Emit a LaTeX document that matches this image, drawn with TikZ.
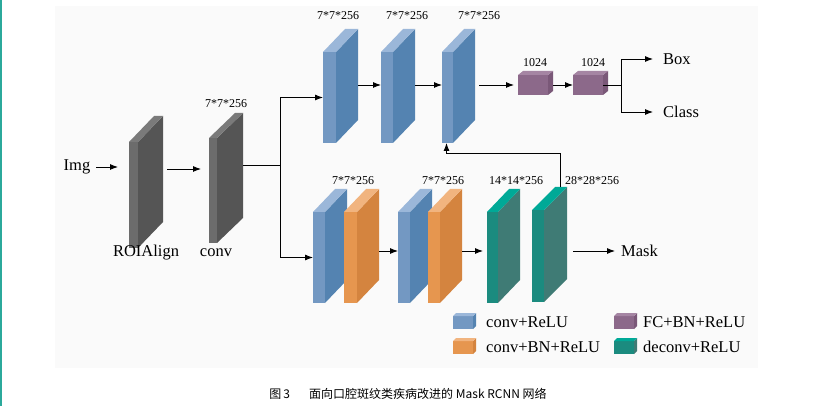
\documentclass[tikz,border=0pt]{standalone}
\usepackage{fontspec}
\setmainfont{Liberation Serif}
\newfontfamily\cjk{Noto Sans CJK SC}
\usepackage{xcolor}
\usetikzlibrary{arrows.meta, calc}

\definecolor{greyfront}{HTML}{6C6C6C}
\definecolor{greyside}{HTML}{555555}
\definecolor{greytop}{HTML}{7A7A7A}
\definecolor{bluefront}{HTML}{7398C2}
\definecolor{blueside}{HTML}{5483B1}
\definecolor{bluetop}{HTML}{9BB7D9}
\definecolor{orangefront}{HTML}{E6964F}
\definecolor{orangeside}{HTML}{D4843F}
\definecolor{orangetop}{HTML}{F1B47F}
\definecolor{tealfront}{HTML}{1B8B7F}
\definecolor{tealside}{HTML}{3F7B75}
\definecolor{tealtop}{HTML}{00A997}
\definecolor{purplefront}{HTML}{8C698A}
\definecolor{purpleside}{HTML}{7A5878}
\definecolor{purpletop}{HTML}{A585A3}
\definecolor{panel}{HTML}{FAFAFA}
\definecolor{edgeteal}{HTML}{2BA99B}

% one layer: front face (node #1), side face and top face
\newcommand{\layerslab}[8]{%
  \node[front, fill=#8front, minimum width=#4pt, minimum height=#5pt] (#1) at (#2,#3) {};
  \fill[#8side] (#1.north east) -- ++(#6pt,#7pt) -- ++(0pt,-#5pt) -- (#1.south east) -- cycle;
  \fill[#8top] (#1.north west) -- ++(#6pt,#7pt) -- ++(#4pt,0pt) -- (#1.north east) -- cycle;
  \coordinate (#1-b) at ($(#1.east)+(#6pt,#7pt)$);
  \coordinate (#1-t) at ($(#1.north)+(#6pt,#7pt)$);
}

\begin{document}
\begin{tikzpicture}[x=1pt, y=-1pt,
  front/.style={anchor=north west, inner sep=0pt, outer sep=0pt, draw=none},
  txt/.style={inner sep=0pt, font=\fontsize{16.5}{18}\selectfont},
  lbl/.style={inner sep=0pt, font=\fontsize{12}{14}\selectfont},
  line/.style={draw, line width=0.9pt},
  arr/.style={line, -{Latex[length=8pt, width=6pt]}}]
\useasboundingbox (0,0) rectangle (814,406);
\fill[edgeteal] (0,0) rectangle (2,406);
\fill[panel] (55,6) rectangle (758,368);

% input part
\node[txt] (img) at (77,167) {Img};
\layerslab{roi}{129}{142}{9}{106}{25}{26}{grey}
\layerslab{conv}{209}{138}{8}{105}{26}{25}{grey}
\node[txt] (roilbl) at (146,253) {ROIAlign};
\node[txt] (convlbl) at (216,253) {conv};
\node[lbl] (convdim) at (226,104) {7*7*256};
\draw[arr, shorten <=6pt, shorten >=11pt] (img.east) -- (img.east -| roi.west);
\draw[arr, shorten <=4pt, shorten >=8pt] (roi-b) -- (roi-b -| conv.west);
\draw[line] (conv-b) -- ++(37pt,0pt) coordinate (split);

% box / class head
\layerslab{u1}{323}{52}{13}{91}{22}{23}{blue}
\layerslab{u2}{381}{52}{12}{91}{22}{23}{blue}
\layerslab{u3}{442}{52}{11}{91}{22}{23}{blue}
\layerslab{fc1}{518}{75}{30}{20}{5}{4}{purple}
\layerslab{fc2}{573}{75}{30}{20}{5}{4}{purple}
\node[lbl] (u1dim) at (338,16) {7*7*256};
\node[lbl] (u2dim) at (407,16) {7*7*256};
\node[lbl] (u3dim) at (479,16) {7*7*256};
\node[lbl] (fc1dim) at (535,63) {1024};
\node[lbl] (fc2dim) at (593,63) {1024};
\node[txt, anchor=west] (box) at (663,59) {Box};
\node[txt, anchor=west] (cls) at (663,112) {Class};
\coordinate (rowU) at (0,85);
\draw[arr] (split) |- (u1.west);
\draw[arr] (u1-b |- rowU) -- (u2.west |- rowU);
\draw[arr] (u2-b |- rowU) -- (u3.west |- rowU);
\draw[arr, shorten <=4pt, shorten >=4pt] (u3-b |- rowU) -- (fc1.west);
\draw[arr] (fc1-b |- fc1.east) -- (fc2.west);
\draw[line] (fc2.east) -- ++(18pt,0pt) coordinate (fork);
\draw[arr, shorten >=10pt] (fork) |- (box.west);
\draw[arr, shorten >=10pt] (fork) |- (cls.west);

% mask head
\layerslab{b1}{313}{212}{12}{91}{22}{23}{blue}
\layerslab{o1}{344}{212}{13}{91}{22}{23}{orange}
\layerslab{b2}{398}{212}{12}{91}{22}{23}{blue}
\layerslab{o2}{428}{212}{12}{91}{22}{23}{orange}
\layerslab{t1}{487}{212}{11}{91}{22}{23}{teal}
\layerslab{t2}{532}{210}{12}{92}{23}{23}{teal}
\node[lbl] (o1dim) at (353,181) {7*7*256};
\node[lbl] (o2dim) at (443,181) {7*7*256};
\node[lbl] (t1dim) at (516,181) {14*14*256};
\node[lbl] (t2dim) at (592,181) {28*28*256};
\node[txt, anchor=west] (mask) at (621,251) {Mask};
\coordinate (rowB) at (0,251);
\draw[arr] (split) |- (b1.west);
\draw[arr] (o1-b |- rowB) -- (b2.west |- rowB);
\draw[arr, shorten >=4pt] (o2-b |- rowB) -- (t1.west |- rowB);
\draw[arr, shorten <=6pt, shorten >=6pt] (t2-b |- mask.west) -- (mask.west);
\draw[arr] ([xshift=-1pt]t2-t) -- ++(0pt,34pt) -| ([xshift=-1pt]u3.south);

% legend
\layerslab{lg1}{453}{316}{20}{13}{3}{3}{blue}
\layerslab{lg2}{453}{341}{20}{13}{3}{3}{orange}
\layerslab{lg3}{614}{316}{20}{13}{3}{3}{purple}
\layerslab{lg4}{614}{341}{20}{13}{3}{3}{teal}
\node[txt, anchor=west] (lg1txt) at (486,322) {conv+ReLU};
\node[txt, anchor=west] (lg2txt) at (486,347) {conv+BN+ReLU};
\node[txt, anchor=west] (lg3txt) at (643,322) {FC+BN+ReLU};
\node[txt, anchor=west] (lg4txt) at (643,347) {deconv+ReLU};

% caption
\node[font=\cjk\fontsize{12}{14}\selectfont] (cap) at (408,394) {图\,3\hspace{1.6em}面向口腔斑纹类疾病改进的 Mask RCNN 网络};
\end{tikzpicture}
\end{document}
